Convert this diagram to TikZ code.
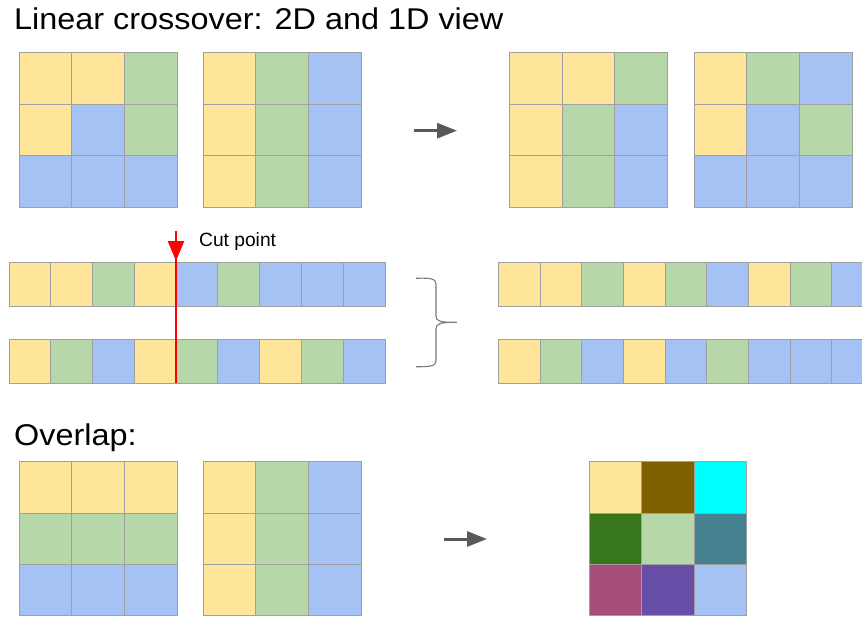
\documentclass[tikz,border=0pt]{standalone}
\usepackage{fontspec}
\setmainfont{Liberation Sans}
\usetikzlibrary{arrows.meta}
\definecolor{Y}{HTML}{FFE599}
\definecolor{G}{HTML}{B6D7A8}
\definecolor{B}{HTML}{A4C2F4}
\definecolor{BR}{HTML}{7F6000}
\definecolor{CY}{HTML}{00FFFF}
\definecolor{DG}{HTML}{38761D}
\definecolor{TE}{HTML}{45818E}
\definecolor{MA}{HTML}{A64D79}
\definecolor{PU}{HTML}{674EA7}
\definecolor{cellline}{HTML}{A0A0A0}
\definecolor{arrgray}{HTML}{595959}
\definecolor{bracegray}{HTML}{7A7A7A}
\newcommand\mygrid[6]{%
  \foreach \c [count=\i from 0] in {#6}{%
    \pgfmathtruncatemacro\col{mod(\i,#3)}%
    \pgfmathtruncatemacro\row{div(\i,#3)}%
    \filldraw[cellst, fill=\c] ({#1+\col*#4},{#2+\row*#5}) rectangle +(#4,#5);
  }}
\tikzset{
  cellst/.style={draw=cellline, line width=1pt},
  grayarrow/.style={draw=arrgray, line width=3pt, -{Triangle[length=20pt,width=15pt]}},
  redarrow/.style={draw=red, line width=2.5pt, -{Triangle[length=20pt,width=16pt]}},
  bigtext/.style={font=\fontsize{30}{34}\selectfont, anchor=base west, inner sep=0pt, xscale=1.08},
  smalltext/.style={font=\fontsize{19.2}{22}\selectfont, anchor=base west, inner sep=0pt},
  bracest/.style={draw=bracegray, line width=1.1pt}
}
\begin{document}
\begin{tikzpicture}[x=1pt, y=-1pt]
\useasboundingbox (0,0) rectangle (862,618);
\node[bigtext] (title) at (14,29.5) {Linear crossover: 2D and 1D view};
% top grids
\mygrid{19}{52.7}{3}{52.67}{51.5}{Y,Y,G,Y,B,G,B,B,B}
\mygrid{203.3}{52.7}{3}{52.57}{51.5}{Y,G,B,Y,G,B,Y,G,B}
\mygrid{509.3}{52.7}{3}{52.8}{51.5}{Y,Y,G,Y,G,B,Y,G,B}
\mygrid{694}{52.7}{3}{52.67}{51.5}{Y,G,B,Y,B,G,B,B,B}
\coordinate (a1s) at (414,130.7);
\coordinate (a1e) at (457,130.7);
\draw[grayarrow] (a1s) -- (a1e);
% strips
\mygrid{9}{262.7}{9}{41.78}{44}{Y,Y,G,Y,B,G,B,B,B}
\mygrid{9}{339}{9}{41.78}{44}{Y,G,B,Y,G,B,Y,G,B}
\begin{scope}
\clip (0,0) rectangle (862,618);
\mygrid{498.3}{262.7}{9}{41.7}{44}{Y,Y,G,Y,G,B,Y,G,B}
\mygrid{498.3}{339}{9}{41.7}{44}{Y,G,B,Y,B,G,B,B,B}
\end{scope}
% cut line
\coordinate (cuttop) at (176,231);
\coordinate (cutmid) at (176,261);
\coordinate (cutbot) at (176,383);
\draw[red, line width=2.5pt] (176,259) -- (cutbot);
\draw[redarrow] (cuttop) -- (cutmid);
\node[smalltext] (cut) at (199,246) {Cut point};
% brace
\coordinate (btop) at (416,278.3);
\coordinate (btip) at (457,322.3);
\coordinate (bbot) at (416,366.7);
\draw[bracest] (btop) .. controls (430,277.8) and (436,278.5) .. (436,284)
  -- (436,316) .. controls (436,321.5) and (440,322.3) .. (btip)
  (btip) .. controls (440,322.3) and (436,323.5) .. (436,329)
  -- (436,361) .. controls (436,366) and (430,366.9) .. (bbot);
% overlap
\node[bigtext] (overlap) at (14,445.5) {Overlap:};
\mygrid{19}{461.7}{3}{52.67}{51.4}{Y,Y,Y,G,G,G,B,B,B}
\mygrid{203.3}{461.7}{3}{52.57}{51.4}{Y,G,B,Y,G,B,Y,G,B}
\mygrid{589}{461.7}{3}{52.57}{51.4}{Y,BR,CY,DG,G,TE,MA,PU,B}
\coordinate (a2s) at (444,539);
\coordinate (a2e) at (487,539);
\draw[grayarrow] (a2s) -- (a2e);
\end{tikzpicture}
\end{document}
